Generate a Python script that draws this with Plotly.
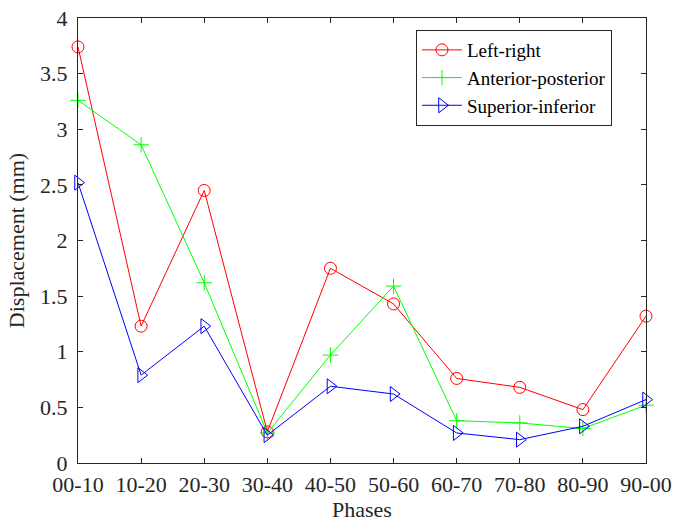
import plotly.graph_objects as go

phases = ["00-10", "10-20", "20-30", "30-40", "40-50", "50-60", "60-70", "70-80", "80-90", "90-00"]
left_right = [3.74, 1.23, 2.45, 0.28, 1.75, 1.43, 0.76, 0.68, 0.48, 1.32]
anterior_posterior = [3.26, 2.86, 1.62, 0.27, 0.97, 1.59, 0.38, 0.36, 0.31, 0.52]
superior_inferior = [2.52, 0.79, 1.23, 0.25, 0.69, 0.62, 0.27, 0.21, 0.33, 0.57]
y_ticks = [0, 0.5, 1, 1.5, 2, 2.5, 3, 3.5, 4]
y_ticklabels = ["0", "0.5", "1", "1.5", "2", "2.5", "3", "3.5", "4"]

xi = list(range(len(phases)))
font = "Liberation Serif, Times New Roman, serif"
axis_col = "#262626"

fig = go.Figure()
fig.add_trace(go.Scatter(
    x=xi, y=left_right, name="Left-right", mode="lines+markers",
    line=dict(color="#ff0000", width=1),
    marker=dict(symbol="circle-open", size=12, color="#ff0000", line=dict(width=1, color="#ff0000")),
    cliponaxis=False,
))
fig.add_trace(go.Scatter(
    x=xi, y=anterior_posterior, name="Anterior-posterior", mode="lines+markers",
    line=dict(color="#00ff00", width=1),
    marker=dict(symbol="cross-thin-open", size=11, color="#00ff00", line=dict(width=1, color="#00ff00")),
    cliponaxis=False,
))
fig.add_trace(go.Scatter(
    x=xi, y=superior_inferior, name="Superior-inferior", mode="lines+markers",
    line=dict(color="#0000ff", width=1),
    marker=dict(symbol="triangle-right-open", size=13, color="#0000ff", line=dict(width=1, color="#0000ff")),
    cliponaxis=False,
))

fig.update_layout(
    width=674, height=525,
    margin=dict(l=78, r=28, t=18, b=62, autoexpand=False),
    paper_bgcolor="white", plot_bgcolor="white",
    font=dict(family=font, size=21, color=axis_col),
    showlegend=True,
    legend=dict(
        x=0.595, y=0.973, xanchor="left", yanchor="top",
        bordercolor=axis_col, borderwidth=1, bgcolor="white",
        font=dict(family=font, size=19, color="black"),
        itemwidth=40, tracegroupgap=0,
    ),
)
fig.update_xaxes(
    range=[0, 9], tickmode="array", tickvals=xi, ticktext=phases,
    ticks="inside", ticklen=5, tickcolor=axis_col, tickwidth=1,
    showline=True, linecolor=axis_col, linewidth=1, mirror="allticks",
    showgrid=False, zeroline=False, automargin=False,
    title=dict(text="Phases", font=dict(family=font, size=22, color=axis_col), standoff=5),
    tickfont=dict(family=font, size=22, color=axis_col),
    ticklabelstandoff=2, ticklabeloverflow="allow",
)
fig.update_yaxes(
    range=[0, 4], tickmode="array", tickvals=y_ticks, ticktext=y_ticklabels,
    ticks="inside", ticklen=5, tickcolor=axis_col, tickwidth=1,
    showline=True, linecolor=axis_col, linewidth=1, mirror="allticks",
    showgrid=False, zeroline=False, automargin=False,
    title=dict(text="Displacement (mm)", font=dict(family=font, size=22, color=axis_col), standoff=9),
    tickfont=dict(family=font, size=22, color=axis_col),
    ticklabelstandoff=5, ticklabeloverflow="allow",
)

fig.write_html("out.html", config={"displayModeBar": False},
               post_script="document.body.style.margin='0';")
